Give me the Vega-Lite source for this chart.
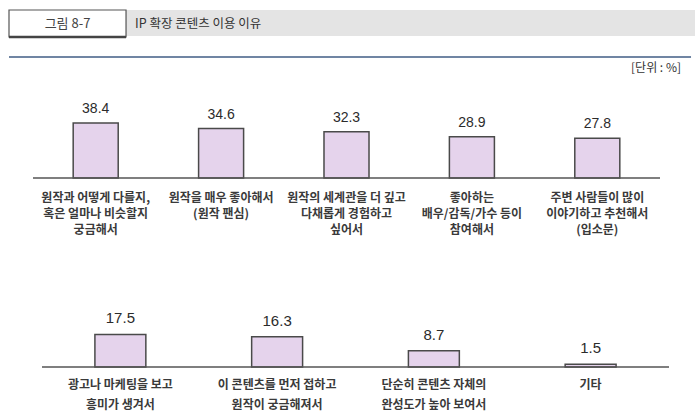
{
  "$schema": "https://vega.github.io/schema/vega-lite/v6.json",
  "width": 700,
  "height": 420,
  "autosize": {"type": "fit", "contains": "padding"},
  "padding": 0,
  "background": "white",
  "config": {"view": {"stroke": null}, "font": "Noto Sans CJK KR"},
  "layer": [
    {
      "data": {"values": [{"fig": "그림 8-7", "title": "IP 확장 콘텐츠 이용 이유", "unit": "[단위 : %]"}]},
      "layer": [
        {
          "mark": {"type": "rect", "fill": "#e4e4e4"},
          "encoding": {
            "x": {"datum": 0, "type": "quantitative", "scale": {"domain": [0, 1], "range": [9, 695], "nice": false, "zero": false}, "axis": null},
            "x2": {"datum": 1},
            "y": {"datum": 0, "type": "quantitative", "scale": {"domain": [0, 1], "range": [10, 72], "nice": false, "zero": false}, "axis": null},
            "y2": {"datum": 0.419}
          }
        },
        {
          "mark": {"type": "rect", "fill": "white", "stroke": "#555555", "strokeWidth": 1.2},
          "encoding": {
            "x": {"datum": 0, "type": "quantitative"},
            "x2": {"datum": 0.1706},
            "y": {"datum": 0, "type": "quantitative"},
            "y2": {"datum": 0.435}
          }
        },
        {
          "mark": {"type": "rule", "stroke": "#444444", "strokeWidth": 2.5},
          "encoding": {
            "x": {"datum": 0, "type": "quantitative"},
            "x2": {"datum": 0.1706},
            "y": {"datum": 0.435, "type": "quantitative"}
          }
        },
        {
          "mark": {"type": "text", "fontSize": 13, "fill": "#444444", "align": "center", "baseline": "middle"},
          "encoding": {
            "x": {"datum": 0.0853, "type": "quantitative"},
            "y": {"datum": 0.226, "type": "quantitative"},
            "text": {"field": "fig"}
          }
        },
        {
          "mark": {"type": "text", "fontSize": 12.5, "fill": "#333333", "align": "left", "baseline": "middle"},
          "encoding": {
            "x": {"datum": 0.1837, "type": "quantitative"},
            "y": {"datum": 0.226, "type": "quantitative"},
            "text": {"field": "title"}
          }
        },
        {
          "mark": {"type": "rule", "stroke": "#7085a3", "strokeWidth": 2},
          "encoding": {
            "x": {"datum": 0, "type": "quantitative"},
            "x2": {"datum": 0.9942},
            "y": {"datum": 0.758, "type": "quantitative"}
          }
        },
        {
          "mark": {"type": "text", "fontSize": 12, "fill": "#333333", "align": "right", "baseline": "middle"},
          "encoding": {
            "x": {"datum": 0.9796, "type": "quantitative"},
            "y": {"datum": 0.935, "type": "quantitative"},
            "text": {"field": "unit"}
          }
        }
      ]
    },
    {
      "data": {"values": [
        {"id": "a1", "lines": ["원작과 어떻게 다를지,", "혹은 얼마나 비슷할지", "궁금해서"], "value": 38.4},
        {"id": "a2", "lines": ["원작을 매우 좋아해서", "(원작 팬심)"], "value": 34.6},
        {"id": "a3", "lines": ["원작의 세계관을 더 깊고", "다채롭게 경험하고", "싶어서"], "value": 32.3},
        {"id": "a4", "lines": ["좋아하는", "배우/감독/가수 등이", "참여해서"], "value": 28.9},
        {"id": "a5", "lines": ["주변 사람들이 많이", "이야기하고 추천해서", "(입소문)"], "value": 27.8}
      ]},
      "layer": [
        {
          "encoding": {
            "x": {"field": "id", "type": "nominal", "sort": null, "scale": {"range": [33, 660], "paddingInner": 0.641, "paddingOuter": 0.3205}, "axis": null},
            "y": {"field": "value", "type": "quantitative", "scale": {"domain": [0, 40], "range": [178, 120.8], "nice": false}, "axis": null}
          },
          "layer": [
            {"mark": {"type": "bar", "fill": "#e5d3ec", "stroke": "#4a4a4a", "strokeWidth": 1.5}},
            {
              "mark": {"type": "text", "dy": -14, "baseline": "middle", "align": "center", "fontSize": 14, "font": "Liberation Sans", "fill": "#2b2b2b"},
              "encoding": {"text": {"field": "value", "type": "quantitative", "format": ".1f"}}
            },
            {
              "mark": {"type": "text", "baseline": "top", "align": "center", "dy": 14.5, "fontSize": 12, "fontWeight": "bold", "fill": "#3a3a3a", "lineHeight": 16},
              "encoding": {"y": {"datum": 0, "type": "quantitative"}, "text": {"field": "lines"}}
            }
          ]
        },
        {
          "data": {"values": [{"base": "x"}]},
          "mark": {"type": "rule", "stroke": "#555555", "strokeWidth": 1.5},
          "encoding": {
            "x": {"datum": 0, "type": "quantitative", "scale": {"domain": [0, 1], "range": [33, 660], "nice": false, "zero": false}, "axis": null},
            "x2": {"datum": 1},
            "y": {"datum": 0, "type": "quantitative"}
          }
        }
      ],
      "resolve": {"scale": {"x": "independent"}}
    },
    {
      "data": {"values": [
        {"id": "b1", "lines": ["광고나 마케팅을 보고", "흥미가 생겨서"], "value": 17.5},
        {"id": "b2", "lines": ["이 콘텐츠를 먼저 접하고", "원작이 궁금해져서"], "value": 16.3},
        {"id": "b3", "lines": ["단순히 콘텐츠 자체의", "완성도가 높아 보여서"], "value": 8.7},
        {"id": "b4", "lines": ["기타"], "value": 1.5}
      ]},
      "layer": [
        {
          "encoding": {
            "x": {"field": "id", "type": "nominal", "sort": null, "scale": {"range": [42, 669], "paddingInner": 0.675, "paddingOuter": 0.3375}, "axis": null},
            "y": {"field": "value", "type": "quantitative", "scale": {"domain": [0, 20], "range": [367, 329.8], "nice": false}, "axis": null}
          },
          "layer": [
            {"mark": {"type": "bar", "fill": "#e5d3ec", "stroke": "#4a4a4a", "strokeWidth": 1.5}},
            {
              "mark": {"type": "text", "dy": -16, "baseline": "middle", "align": "center", "fontSize": 15, "font": "Liberation Sans", "fill": "#2b2b2b"},
              "encoding": {"text": {"field": "value", "type": "quantitative", "format": ".1f"}}
            },
            {
              "mark": {"type": "text", "baseline": "top", "align": "center", "dy": 13, "fontSize": 12, "fontWeight": "bold", "fill": "#3a3a3a", "lineHeight": 20},
              "encoding": {"y": {"datum": 0, "type": "quantitative"}, "text": {"field": "lines"}}
            }
          ]
        },
        {
          "data": {"values": [{"base": "x"}]},
          "mark": {"type": "rule", "stroke": "#555555", "strokeWidth": 1.5},
          "encoding": {
            "x": {"datum": 0, "type": "quantitative", "scale": {"domain": [0, 1], "range": [42, 669], "nice": false, "zero": false}, "axis": null},
            "x2": {"datum": 1},
            "y": {"datum": 0, "type": "quantitative"}
          }
        }
      ],
      "resolve": {"scale": {"x": "independent"}}
    }
  ],
  "resolve": {"scale": {"x": "independent", "y": "independent"}}
}
